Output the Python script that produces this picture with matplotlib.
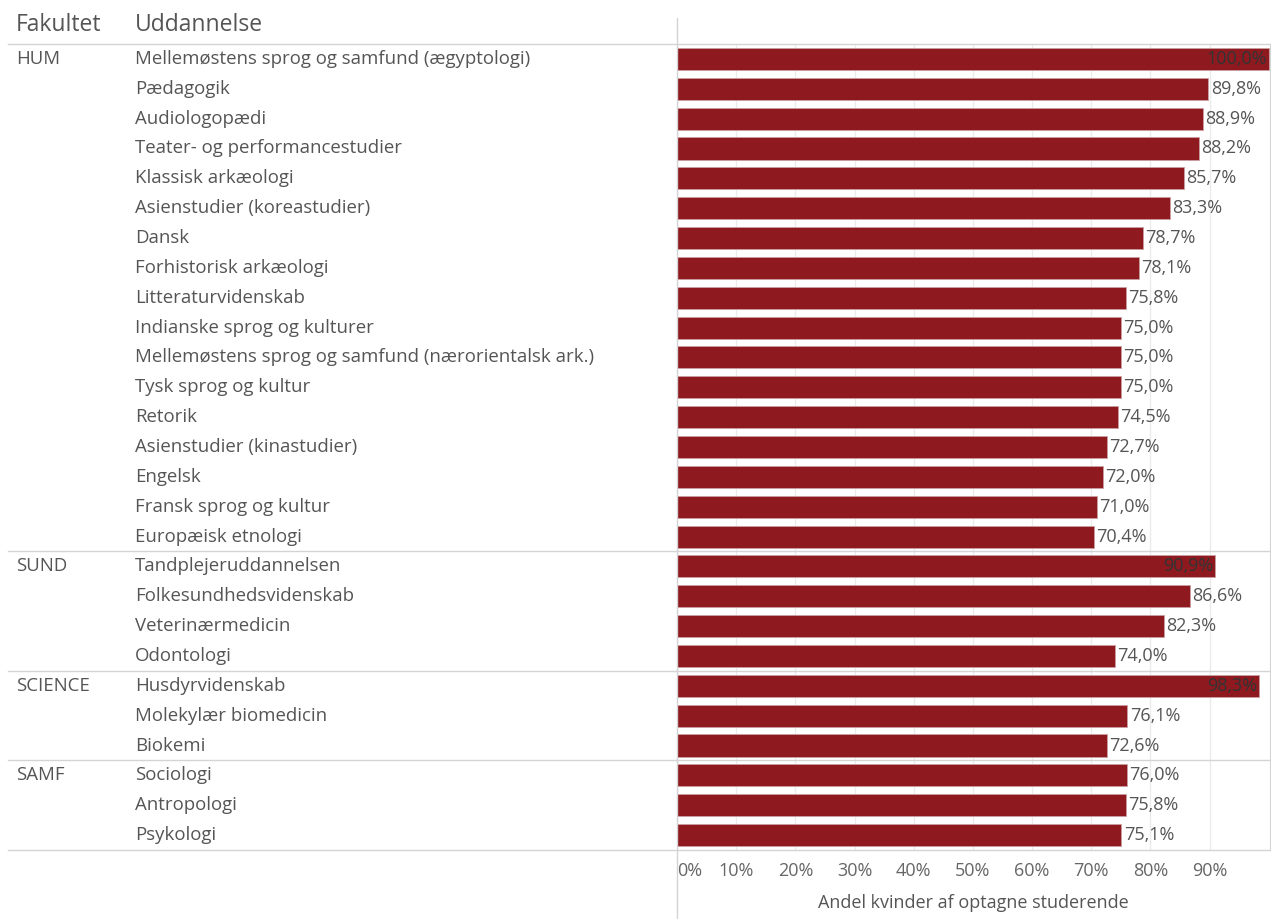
import matplotlib
matplotlib.use("Agg")
import matplotlib.pyplot as plt
import matplotlib.transforms as mtransforms

plt.rcParams['font.family'] = ['Open Sans', 'DejaVu Sans']

# data
faculties = ["HUM", "SUND", "SCIENCE", "SAMF"]
hum_programs = ["Mellemøstens sprog og samfund (ægyptologi)", "Pædagogik", "Audiologopædi",
                "Teater- og performancestudier", "Klassisk arkæologi", "Asienstudier (koreastudier)",
                "Dansk", "Forhistorisk arkæologi", "Litteraturvidenskab", "Indianske sprog og kulturer",
                "Mellemøstens sprog og samfund (nærorientalsk ark.)", "Tysk sprog og kultur", "Retorik",
                "Asienstudier (kinastudier)", "Engelsk", "Fransk sprog og kultur", "Europæisk etnologi"]
hum_values = [100.0, 89.8, 88.9, 88.2, 85.7, 83.3, 78.7, 78.1, 75.8, 75.0, 75.0, 75.0, 74.5, 72.7, 72.0, 71.0, 70.4]
sund_programs = ["Tandplejeruddannelsen", "Folkesundhedsvidenskab", "Veterinærmedicin", "Odontologi"]
sund_values = [90.9, 86.6, 82.3, 74.0]
science_programs = ["Husdyrvidenskab", "Molekylær biomedicin", "Biokemi"]
science_values = [98.3, 76.1, 72.6]
samf_programs = ["Sociologi", "Antropologi", "Psykologi"]
samf_values = [76.0, 75.8, 75.1]

groups = [hum_programs, sund_programs, science_programs, samf_programs]
group_values = [hum_values, sund_values, science_values, samf_values]

programs = [p for g in groups for p in g]
values = [v for g in group_values for v in g]
n = len(programs)

W, H = 1271, 919
fig = plt.figure(figsize=(W / 100, H / 100), dpi=100)
ax = fig.add_axes([677 / W, (H - 850) / H, (1270 - 677) / W, 806 / H])

bar_color = "#8e1a20"
grid_color = "#ebebeb"
line_color = "#d4d4d4"
text_color = "#555555"
fs = 13
row_fs = 13.4

ax.barh(range(n), values, height=0.74, color=bar_color, edgecolor="#c9a0a2", linewidth=0.6, zorder=2)
ax.set_xlim(0, 100.2)
ax.set_ylim(n - 0.5, -0.5)
ax.set_yticks([])
ax.set_xticks(range(0, 100, 10))
ax.set_xticklabels([f"{t}%" for t in range(0, 100, 10)], color="#666666", fontsize=fs)
ax.get_xticklabels()[0].set_horizontalalignment("left")
ax.tick_params(axis="x", length=0, pad=9)
ax.grid(axis="x", color=grid_color, linewidth=1, zorder=0)
for s in ["top", "left", "bottom"]:
    ax.spines[s].set_visible(False)
ax.spines["right"].set_color(line_color)

# value labels (inside the bar when it would not fit)
for i, v in enumerate(values):
    lab = f"{v:.1f}%".replace(".", ",")
    if v >= 90.5:
        ax.text(v - 0.3, i, lab, ha="right", va="center", color="#333333", fontsize=fs, zorder=3)
    else:
        ax.text(v + 0.4, i, lab, ha="left", va="center", color=text_color, fontsize=fs, zorder=3)

ax.set_xlabel("Andel kvinder af optagne studerende", color=text_color, fontsize=fs, labelpad=10)

# row header text on the left
tr = mtransforms.blended_transform_factory(fig.transFigure, ax.transData)
for i, p in enumerate(programs):
    fig.text(135 / W, i, p, transform=tr, ha="left", va="center", color=text_color, fontsize=row_fs)

row = 0
bounds = [-0.5]
for f, g in zip(faculties, groups):
    fig.text(16 / W, row, f, transform=tr, ha="left", va="center", color=text_color, fontsize=row_fs)
    row += len(g)
    bounds.append(row - 0.5)

for b in bounds:
    ax.plot([8 / W, 1270 / W], [b, b], transform=tr, color=line_color, linewidth=1, clip_on=False, zorder=4)

# column headers
fig.text(16 / W, 1 - 25 / H, "Fakultet", ha="left", va="center", color=text_color, fontsize=16.5)
fig.text(135 / W, 1 - 25 / H, "Uddannelse", ha="left", va="center", color=text_color, fontsize=16.5)

# left border of bar pane
fig.add_artist(plt.Line2D([677 / W, 677 / W], [0, 1 - 18 / H], color=line_color, linewidth=1))

fig.savefig("out.png", dpi=100)
